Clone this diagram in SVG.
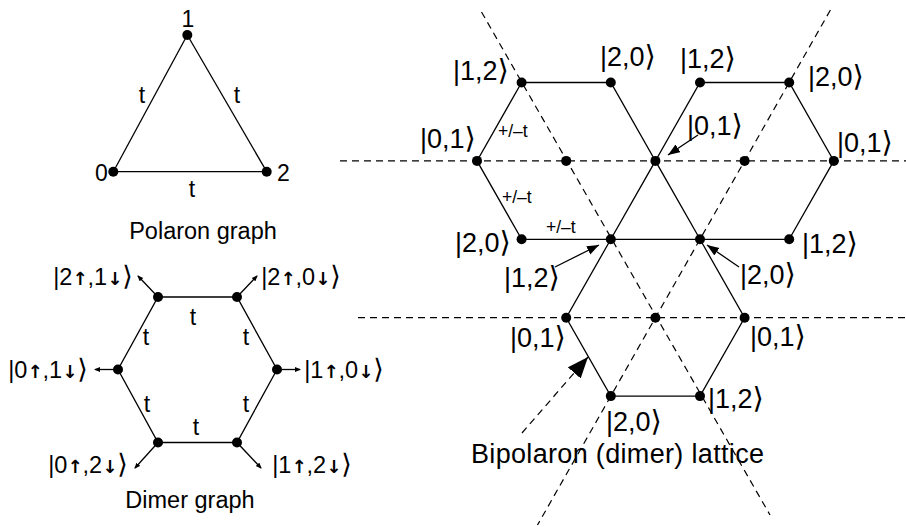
<svg xmlns="http://www.w3.org/2000/svg" width="906" height="527" viewBox="0 0 906 527">
<style>
text{font-family:"Liberation Sans",Arial,"DejaVu Sans",sans-serif;fill:#000}
.cap{font-size:23.5px}
.lbl{font-size:23px}
.ket{font-size:27px}
.dk{font-size:23.5px;text-anchor:middle}
.br{font-family:"DejaVu Sans",sans-serif;font-size:29px}
.dk .br{font-size:27px}
.ar{font-family:"DejaVu Sans",sans-serif;font-size:18px;font-weight:bold}
.pm{font-size:17.5px}
.e{stroke:#000;stroke-width:1.3;fill:none}
.d{stroke:#000;stroke-width:1.2;fill:none;stroke-dasharray:7 5}
.n{fill:#000}
</style>
<defs>
<marker id="sm" markerUnits="userSpaceOnUse" markerWidth="6" markerHeight="6" refX="5" refY="3" orient="auto"><path d="M0,0.5 L6,3 L0,5.5 z" fill="#000"/></marker>
<marker id="md" markerUnits="userSpaceOnUse" markerWidth="12" markerHeight="10" refX="12" refY="4.5" orient="auto"><path d="M0,0 L12,4.5 L0,9 z" fill="#000"/></marker>
<marker id="lg" markerUnits="userSpaceOnUse" markerWidth="22" markerHeight="18" refX="21" refY="8.5" orient="auto"><path d="M0,0 L21,8.5 L0,17 z" fill="#000"/></marker>
</defs>

<g id="connectors">
<line class="e" x1="187.3" y1="35" x2="113.3" y2="171.7"/>
<line class="e" x1="187.3" y1="35" x2="266.7" y2="171.7"/>
<line class="e" x1="113.3" y1="171.7" x2="266.7" y2="171.7"/>
<polygon class="e" points="158,297 237,297 277,369.5 237,442.5 158,442.5 118,369.5"/>
<line class="e" x1="158" y1="297" x2="138" y2="276" marker-end="url(#sm)" stroke-width="1"/>
<line class="e" x1="237" y1="297" x2="257" y2="276" marker-end="url(#sm)" stroke-width="1"/>
<line class="e" x1="118" y1="369.5" x2="95" y2="369.5" marker-end="url(#sm)" stroke-width="1"/>
<line class="e" x1="277" y1="369.5" x2="300" y2="369.5" marker-end="url(#sm)" stroke-width="1"/>
<line class="e" x1="158" y1="442.5" x2="135" y2="468" marker-end="url(#sm)" stroke-width="1"/>
<line class="e" x1="237" y1="442.5" x2="261" y2="468" marker-end="url(#sm)" stroke-width="1"/>
<line class="d" x1="340" y1="160.9" x2="906" y2="160.9"/>
<line class="d" x1="358" y1="317.7" x2="906" y2="317.7"/>
<line class="d" x1="481.5" y1="12" x2="770" y2="515"/>
<line class="d" x1="830.4" y1="10" x2="537.5" y2="525"/>
<line class="d" x1="522" y1="433" x2="588" y2="357" marker-end="url(#lg)"/>
<polyline class="e" points="521.6,82.5 610.8,82.5 655.4,160.9 610.8,239.3"/>
<polyline class="e" points="521.6,239.3 477,160.9 521.6,82.5"/>
<line class="e" x1="521.6" y1="239.3" x2="789.2" y2="239.3"/>
<polyline class="e" points="700,239.3 655.4,160.9 700,82.5 789.2,82.5 833.8,160.9 789.2,239.3"/>
<polyline class="e" points="700,239.3 744.6,317.7 700,396.1 610.8,396.1 566.2,317.7 610.8,239.3"/>
<line class="e" x1="698" y1="135" x2="668" y2="155" stroke-width="1" marker-end="url(#md)"/>
<line class="e" x1="555" y1="267" x2="599" y2="245" stroke-width="1" marker-end="url(#md)"/>
<line class="e" x1="739" y1="267" x2="707" y2="245" stroke-width="1" marker-end="url(#md)"/>
</g>

<g id="polaron">
<g id="p1"><circle class="n" cx="187.3" cy="35" r="5"/><text class="lbl" x="188" y="27" text-anchor="middle">1</text></g>
<g id="p0"><circle class="n" cx="113.3" cy="171.7" r="5"/><text class="lbl" x="101.5" y="181" text-anchor="middle">0</text></g>
<g id="p2"><circle class="n" cx="266.7" cy="171.7" r="5"/><text class="lbl" x="283.5" y="181" text-anchor="middle">2</text></g>
<text class="lbl" x="142" y="103" text-anchor="middle">t</text>
<text class="lbl" x="237" y="103" text-anchor="middle">t</text>
<text class="lbl" x="192" y="197" text-anchor="middle">t</text>
<text class="cap" x="203" y="239" text-anchor="middle">Polaron graph</text>
</g>

<g id="dimer">
<g id="d1"><circle class="n" cx="158" cy="297" r="5"/><text class="dk" x="93" y="285">|2<tspan class="ar">↑</tspan>,1<tspan class="ar">↓</tspan><tspan class="br">⟩</tspan></text></g>
<g id="d2"><circle class="n" cx="237" cy="297" r="5"/><text class="dk" x="301" y="285">|2<tspan class="ar">↑</tspan>,0<tspan class="ar">↓</tspan><tspan class="br">⟩</tspan></text></g>
<g id="d3"><circle class="n" cx="277" cy="369.5" r="5"/><text class="dk" x="344" y="378">|1<tspan class="ar">↑</tspan>,0<tspan class="ar">↓</tspan><tspan class="br">⟩</tspan></text></g>
<g id="d4"><circle class="n" cx="237" cy="442.5" r="5"/><text class="dk" x="312" y="473">|1<tspan class="ar">↑</tspan>,2<tspan class="ar">↓</tspan><tspan class="br">⟩</tspan></text></g>
<g id="d5"><circle class="n" cx="158" cy="442.5" r="5"/><text class="dk" x="88" y="473">|0<tspan class="ar">↑</tspan>,2<tspan class="ar">↓</tspan><tspan class="br">⟩</tspan></text></g>
<g id="d6"><circle class="n" cx="118" cy="369.5" r="5"/><text class="dk" x="48" y="378">|0<tspan class="ar">↑</tspan>,1<tspan class="ar">↓</tspan><tspan class="br">⟩</tspan></text></g>
<text class="lbl" x="193" y="325" text-anchor="middle">t</text>
<text class="lbl" x="146" y="345" text-anchor="middle">t</text>
<text class="lbl" x="246" y="345" text-anchor="middle">t</text>
<text class="lbl" x="147" y="412" text-anchor="middle">t</text>
<text class="lbl" x="246" y="412" text-anchor="middle">t</text>
<text class="lbl" x="196" y="435" text-anchor="middle">t</text>
<text class="cap" x="190" y="508" text-anchor="middle">Dimer graph</text>
</g>

<g id="lattice">
<g id="n00"><circle class="n" cx="521.6" cy="82.5" r="5"/><text class="ket" x="453" y="80">|1,2<tspan class="br">⟩</tspan></text></g>
<g id="n01"><circle class="n" cx="610.8" cy="82.5" r="5"/><text class="ket" x="600" y="66">|2,0<tspan class="br">⟩</tspan></text></g>
<g id="n02"><circle class="n" cx="700" cy="82.5" r="5"/><text class="ket" x="680" y="68">|1,2<tspan class="br">⟩</tspan></text></g>
<g id="n03"><circle class="n" cx="789.2" cy="82.5" r="5"/><text class="ket" x="808" y="86">|2,0<tspan class="br">⟩</tspan></text></g>
<g id="n10"><circle class="n" cx="477" cy="160.9" r="5"/><text class="ket" x="420" y="148">|0,1<tspan class="br">⟩</tspan></text></g>
<g id="n11"><circle class="n" cx="566.2" cy="160.9" r="5"/></g>
<g id="n12"><circle class="n" cx="655.4" cy="160.9" r="5"/><text class="ket" x="687" y="135">|0,1<tspan class="br">⟩</tspan></text></g>
<g id="n13"><circle class="n" cx="744.6" cy="160.9" r="5"/></g>
<g id="n14"><circle class="n" cx="833.8" cy="160.9" r="5"/><text class="ket" x="837" y="152">|0,1<tspan class="br">⟩</tspan></text></g>
<g id="n20"><circle class="n" cx="521.6" cy="239.3" r="5"/><text class="ket" x="455" y="252">|2,0<tspan class="br">⟩</tspan></text></g>
<g id="n21"><circle class="n" cx="610.8" cy="239.3" r="5"/><text class="ket" x="504" y="287">|1,2<tspan class="br">⟩</tspan></text></g>
<g id="n22"><circle class="n" cx="700" cy="239.3" r="5"/><text class="ket" x="740" y="284">|2,0<tspan class="br">⟩</tspan></text></g>
<g id="n23"><circle class="n" cx="789.2" cy="239.3" r="5"/><text class="ket" x="802" y="253">|1,2<tspan class="br">⟩</tspan></text></g>
<g id="n30"><circle class="n" cx="566.2" cy="317.7" r="5"/><text class="ket" x="510" y="347">|0,1<tspan class="br">⟩</tspan></text></g>
<g id="n31"><circle class="n" cx="655.4" cy="317.7" r="5"/></g>
<g id="n32"><circle class="n" cx="744.6" cy="317.7" r="5"/><text class="ket" x="750" y="346">|0,1<tspan class="br">⟩</tspan></text></g>
<g id="n40"><circle class="n" cx="610.8" cy="396.1" r="5"/><text class="ket" x="606" y="431">|2,0<tspan class="br">⟩</tspan></text></g>
<g id="n41"><circle class="n" cx="700" cy="396.1" r="5"/><text class="ket" x="708" y="408">|1,2<tspan class="br">⟩</tspan></text></g>
<text class="pm" x="498" y="137">+/–t</text>
<text class="pm" x="502" y="203">+/–t</text>
<text class="pm" x="546" y="233">+/–t</text>
<text x="471" y="463" style="font-size:27px" textLength="293">Bipolaron (dimer) lattice</text>
</g>
</svg>
